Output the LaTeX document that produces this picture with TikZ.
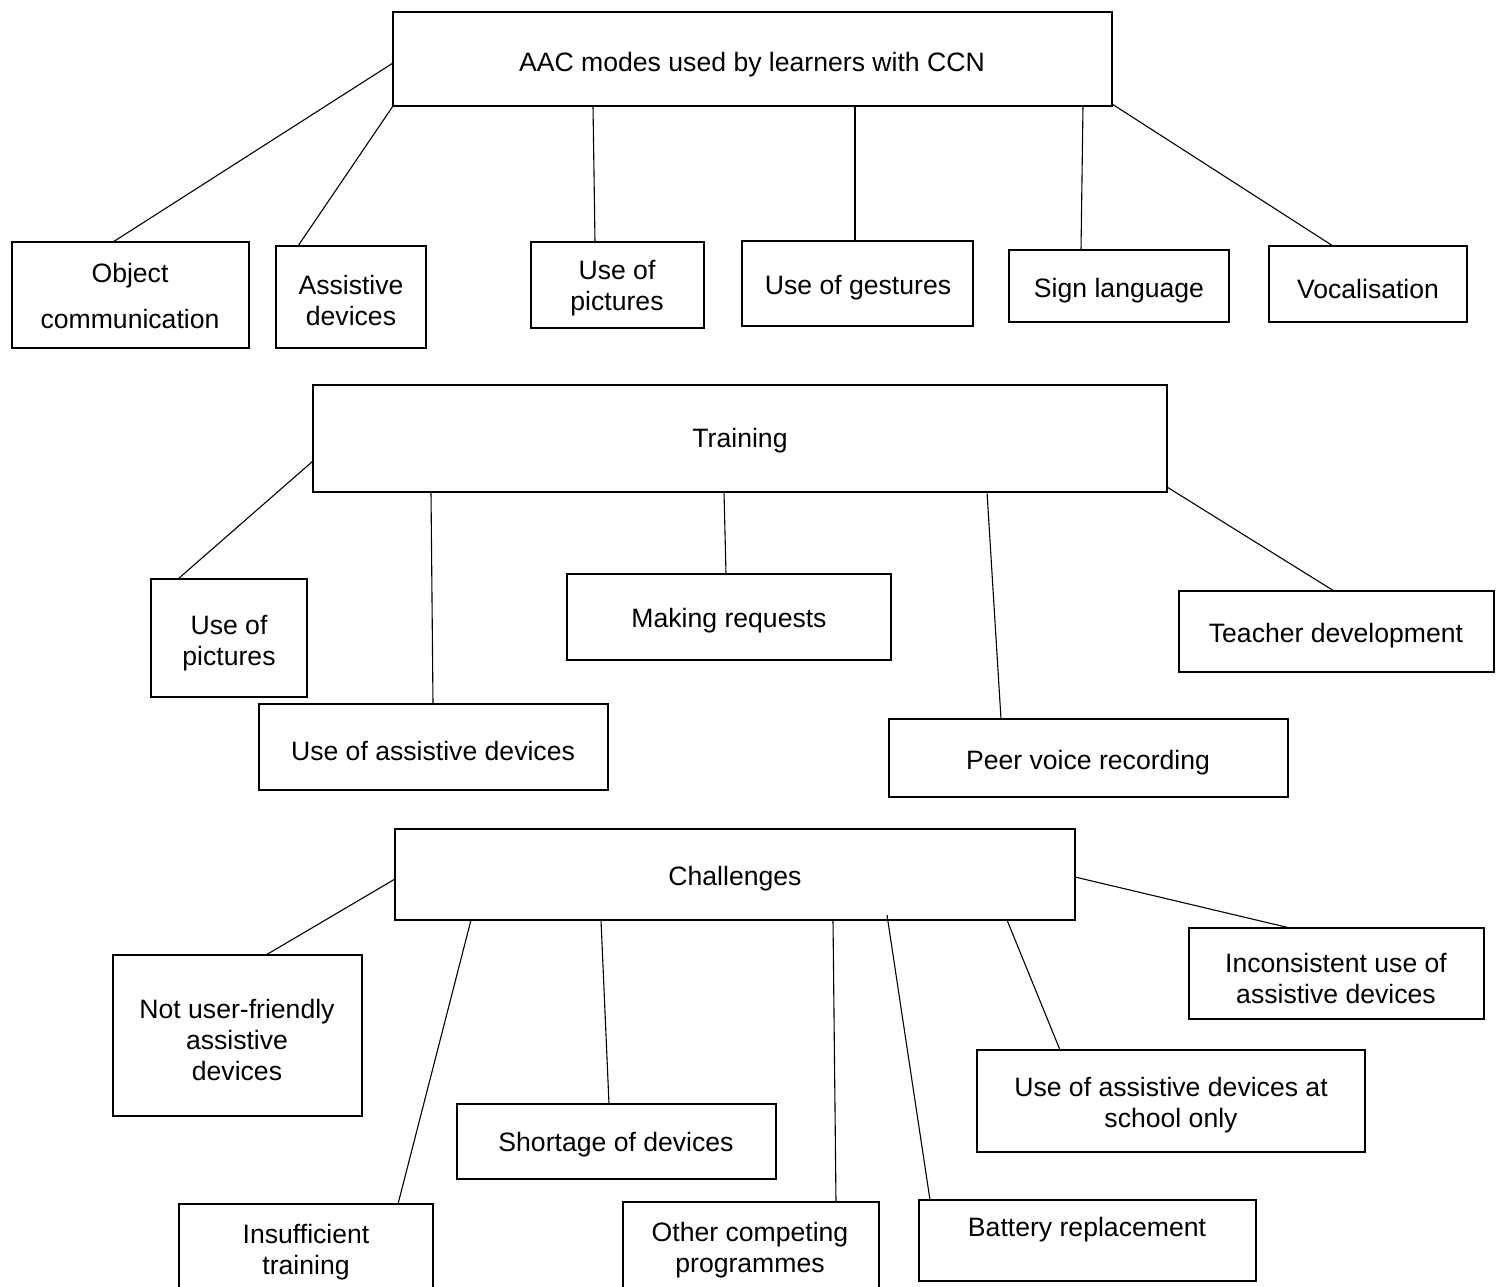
\documentclass[tikz,border=0pt]{standalone}
\usepackage{fontspec}
\setmainfont{Liberation Sans}
\begin{document}
\begin{tikzpicture}[x=1pt,y=-1pt,
  box/.style={draw=black,line width=2.4pt,inner sep=0pt,outer sep=0pt,fill=white},
  lbl/.style={inner sep=0pt,align=center,yshift=-3pt,font=\fontsize{26.6}{31}\selectfont},
  conn/.style={draw=black,line width=1.1pt}]
\useasboundingbox (0,0) rectangle (1502,1287);
\clip (0,0) rectangle (1502,1287);
\fill[white] (0,0) rectangle (1502,1287);
\newcommand\mkbox[5]{\node[box,minimum width={(#4-#2)*1pt},minimum height={(#5-#3)*1pt}] (#1) at ({(#2+#4)/2},{(#3+#5)/2}) {};}
% ---------- row 1 ----------
\mkbox{A}{393}{12}{1112}{106}
\mkbox{a1}{12}{242}{249}{348}
\mkbox{a2}{276}{246}{426}{348}
\mkbox{a3}{531}{242}{704}{328}
\mkbox{a4}{742}{241}{973}{326}
\mkbox{a5}{1009}{250}{1229}{322}
\mkbox{a6}{1269}{246}{1467}{322}
\node[lbl] (At) at (752,62) {AAC modes used by learners with CCN};
\node[lbl] (a1t) at (130,293) {Object\\[15pt]communication};
\node[lbl] (a2t) at (351,297) {Assistive\\devices};
\node[lbl] (a3t) at (617,285) {Use of\\pictures};
\node[lbl] (a4t) at (858,285) {Use of gestures};
\node[lbl] (a5t) at (1119,288) {Sign language};
\node[lbl] (a6t) at (1368,286) {Vocalisation};
\draw[conn] (A.west |- 0,63) -- (a1.north -| 113,0);
\draw[conn] (A.south west) -- (a2.north -| 298,0);
\draw[conn] (A.south -| 593,0) -- (a3.north -| 595,0);
\draw[conn] (A.south -| 855,0) -- (a4.north -| 855,0);
\draw[conn] (A.south -| 1083,0) -- (a5.north -| 1081,0);
\draw[conn] (A.east |- 0,104) -- (a6.north -| 1333,0);
% ---------- row 2 ----------
\mkbox{B}{313}{385}{1167}{492}
\mkbox{b1}{151}{579}{307}{697}
\mkbox{b2}{259}{704}{608}{790}
\mkbox{b3}{567}{574}{891}{660}
\mkbox{b4}{889}{719}{1288}{797}
\mkbox{b5}{1179}{591}{1494}{672}
\node[lbl] (Bt) at (740,438) {Training};
\node[lbl] (b1t) at (229,640) {Use of\\pictures};
\node[lbl] (b2t) at (433,748) {Use of assistive devices};
\node[lbl] (b3t) at (729,618) {Making requests};
\node[lbl] (b4t) at (1088,760) {Peer voice recording};
\node[lbl] (b5t) at (1336,633) {Teacher development};
\draw[conn] (B.west |- 0,461) -- (b1.north -| 178,0);
\draw[conn] (B.south -| 431,0) -- (b2.north -| 433,0);
\draw[conn] (B.south -| 724,0) -- (b3.north -| 726,0);
\draw[conn] (B.south -| 987,0) -- (b4.north -| 1001,0);
\draw[conn] (B.east |- 0,487) -- (b5.north -| 1334,0);
% ---------- row 3 ----------
\mkbox{C}{395}{829}{1075}{920}
\mkbox{c1}{113}{955}{362}{1116}
\mkbox{c2}{179}{1204}{433}{1310}
\mkbox{c3}{457}{1104}{776}{1179}
\mkbox{c4}{623}{1202}{879}{1310}
\mkbox{c5}{919}{1200}{1256}{1281}
\mkbox{c6}{977}{1050}{1365}{1152}
\mkbox{c7}{1189}{928}{1484}{1019}
\node[lbl] (Ct) at (735,876) {Challenges};
\node[lbl] (c1t) at (237,1037) {Not user-friendly\\assistive\\devices};
\node[lbl] (c2t) at (306,1249) {Insufficient\\training};
\node[lbl] (c3t) at (616,1142) {Shortage of devices};
\node[lbl] (c4t) at (750,1247) {Other competing\\programmes};
\node[lbl] (c5t) at (1087,1227) {Battery replacement};
\node[lbl] (c6t) at (1171,1102) {Use of assistive devices at\\school only};
\node[lbl] (c7t) at (1336,975) {Inconsistent use of\\assistive devices};
\draw[conn] (C.west |- 0,879) -- (c1.north -| 266,0);
\draw[conn] (C.south -| 471,0) -- (c2.north -| 398,0);
\draw[conn] (C.south -| 601,0) -- (c3.north -| 609,0);
\draw[conn] (C.south -| 833,0) -- (c4.north -| 836,0);
\draw[conn] (C.south -| 887,0) ++(0,-5) coordinate (cbat) -- (c5.north -| 930,0);
\draw[conn] (C.south -| 1007,0) -- (c6.north -| 1060,0);
\draw[conn] (C.east |- 0,877) -- (c7.north -| 1290,0);
\end{tikzpicture}
\end{document}
